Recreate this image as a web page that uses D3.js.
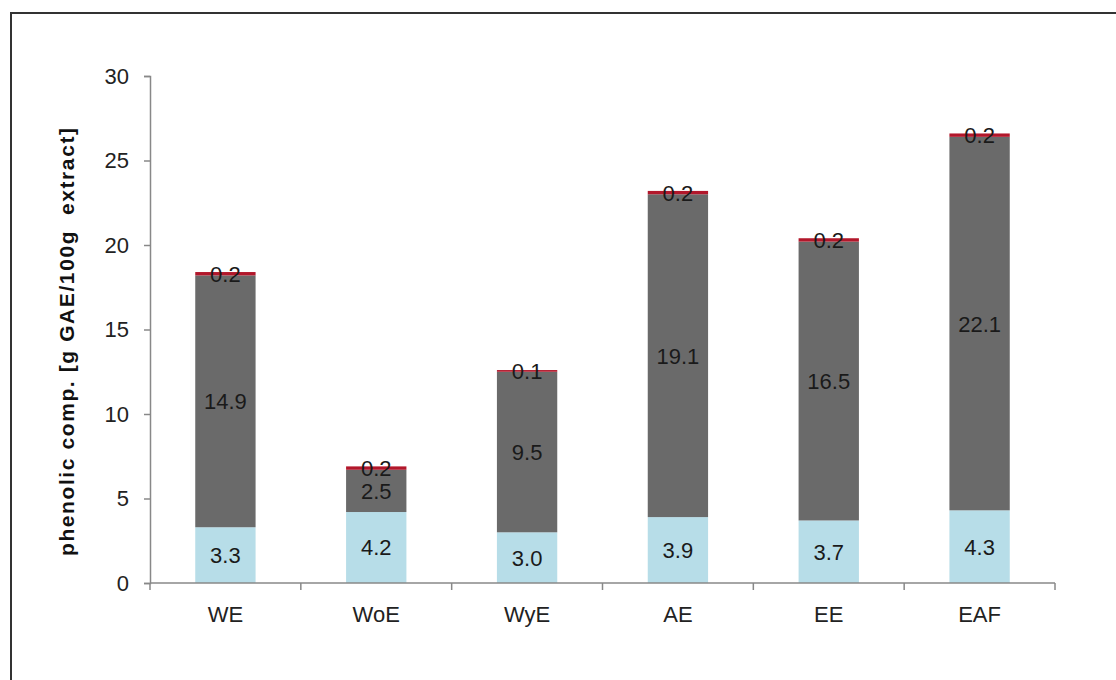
<!DOCTYPE html>
<html><head><meta charset="utf-8">
<script src="https://cdn.jsdelivr.net/npm/d3@7"></script>
<style>body{margin:0;background:#fff;}svg{display:block;}</style>
</head><body>
<svg id="c" width="1116" height="680"></svg>
<script>
const categories = ["WE","WoE","WyE","AE","EE","EAF"];
const seriesNames = ["low","mid","cap"];
const lowValues = [3.3, 4.2, 3.0, 3.9, 3.7, 4.3];
const midValues = [14.9, 2.5, 9.5, 19.1, 16.5, 22.1];
const capValues = [0.2, 0.2, 0.1, 0.2, 0.2, 0.2];
const yTicks = [0,5,10,15,20,25,30];
const colors = ["#b7dde8", "#6a6a6a", "#b2172b"];

const svg = d3.select("#c");
svg.append("rect").attr("x",11).attr("y",13).attr("width",1200).attr("height",800)
  .attr("fill","none").attr("stroke","#333").attr("stroke-width",2);

const mLeft=150, mRight=1055, mTop=76, mBottom=583;
const x = d3.scaleBand().domain(categories).range([mLeft,mRight]).paddingInner(0.6).paddingOuter(0.3);
const xb = d3.scaleBand().domain(categories).range([mLeft,mRight]);
const y = d3.scaleLinear().domain([0,30]).range([mBottom,mTop]);

const rows = categories.map((c,i)=>({cat:c, low:lowValues[i], mid:midValues[i], cap:capValues[i]}));
const stack = d3.stack().keys(seriesNames)(rows);

const FONT = "Liberation Sans, Arial, sans-serif";
const g = svg.append("g");
stack.forEach((s,si)=>{
  g.selectAll(null).data(s).enter().append("rect")
    .attr("x",d=>x(d.data.cat)).attr("width",x.bandwidth())
    .attr("y",d=>y(d[1])).attr("height",d=>y(d[0])-y(d[1]))
    .attr("fill",colors[si]);
});
stack.forEach((s,si)=>{
  g.selectAll(null).data(s).enter().append("text")
    .attr("x",d=>x(d.data.cat)+x.bandwidth()/2)
    .attr("y",d=>(y(d[0])+y(d[1]))/2)
    .attr("dy","0.36em").attr("text-anchor","middle")
    .attr("font-family",FONT).attr("font-size",22)
    .attr("fill","#1a1a1a")
    .text(d=>(d[1]-d[0]).toFixed(1));
});

const ya = svg.append("g").attr("transform",`translate(${mLeft},0)`)
  .call(d3.axisLeft(y).tickValues(yTicks).tickSize(6).tickPadding(15));
const xa = svg.append("g").attr("transform",`translate(0,${mBottom})`)
  .call(d3.axisBottom(xb).tickSize(0).tickPadding(23));
const bounds = categories.map(c=>xb(c)).concat([mRight]);
svg.append("g").selectAll("line").data(bounds).enter().append("line")
  .attr("x1",d=>d).attr("x2",d=>d).attr("y1",mBottom).attr("y2",mBottom+7)
  .attr("stroke","#888").attr("stroke-width",1.5);

[ya,xa].forEach(a=>{
  a.selectAll("path,line").attr("stroke","#888").attr("stroke-width",1.5);
  a.selectAll("text").attr("font-family",FONT)
    .attr("font-size",22).attr("fill","#222");
});
xa.select(".domain").attr("d",`M${mLeft},0H${mRight}`);

svg.append("text").attr("transform","translate(74,342) rotate(-90)")
  .attr("text-anchor","middle").attr("font-family",FONT)
  .attr("font-weight","bold").attr("font-size",21).attr("fill","#111")
  .attr("textLength",428).attr("lengthAdjust","spacing")
  .style("white-space","pre")
  .text("phenolic comp. [g GAE/100g  extract]");
</script>
</body></html>
